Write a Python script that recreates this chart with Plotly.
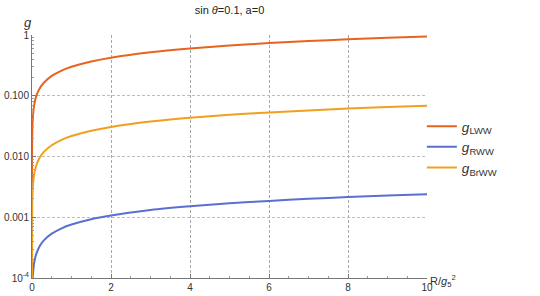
import plotly.graph_objects as go

x_vals = [0, 0.001, 0.005, 0.01, 0.02, 0.05, 0.1, 0.2, 0.3, 0.5, 0.75, 1, 1.5, 2, 3, 4, 5, 6, 7, 8, 9, 10]
g_lww = [1e-6, 0.0095, 0.021, 0.030, 0.042, 0.067, 0.095, 0.134, 0.164, 0.212, 0.26, 0.30, 0.367, 0.424, 0.52, 0.60, 0.67, 0.735, 0.794, 0.849, 0.90, 0.949]
g_rww = [1e-8, 0.000024, 0.0000537, 0.000076, 0.000107, 0.00017, 0.00024, 0.00034, 0.000416, 0.000537, 0.000658, 0.00076, 0.00093, 0.00107, 0.00132, 0.00152, 0.0017, 0.00186, 0.00201, 0.00215, 0.00228, 0.0024]
g_brww = [1e-7, 0.00069, 0.00153, 0.00217, 0.00307, 0.00485, 0.00686, 0.0097, 0.0119, 0.0153, 0.0188, 0.0217, 0.0266, 0.0307, 0.0376, 0.0434, 0.0485, 0.0532, 0.0574, 0.0614, 0.0651, 0.0686]

series_names = ["<i>g</i><sub>LWW</sub>", "<i>g</i><sub>RWW</sub>", "<i>g</i><sub>BrWW</sub>"]
colors = ["#E8641E", "#5B6FCF", "#F0A01E"]

y_ticks = [1e-4, 1e-3, 1e-2, 0.1, 1]
y_ticktext = ["10<sup>-4</sup>", "0.001", "0.010", "0.100", "1"]
x_ticks = [0, 2, 4, 6, 8, 10]
y_minor = [m * 10 ** e for e in range(-4, 0) for m in range(2, 10)]

fig = go.Figure()
for name, ys, c in zip(series_names, [g_lww, g_rww, g_brww], colors):
    fig.add_trace(go.Scatter(x=x_vals, y=ys, mode="lines", name=name,
                             line=dict(color=c, width=2, shape="spline", smoothing=0.6)))

fig.update_layout(
    width=540, height=296,
    margin=dict(l=32, r=113, t=35, b=18, pad=0, autoexpand=False),
    plot_bgcolor="white", paper_bgcolor="white",
    font=dict(family="Liberation Sans, Arial, sans-serif", size=10, color="#333"),
    title=dict(text="sin <i>θ</i>=0.1, a=0", x=0.5, xanchor="center", xref="paper", y=0.98, yanchor="top",
               font=dict(size=11, color="#222"), automargin=False),
    showlegend=True,
    legend=dict(x=0.987, y=0.539, xanchor="left", yanchor="middle", font=dict(size=13.5, color="#333"),
                bgcolor="rgba(0,0,0,0)"),
    xaxis=dict(range=[0, 10], tickvals=x_ticks, showline=True, linecolor="#777", linewidth=1,
               ticks="inside", ticklen=4, tickcolor="#777", showgrid=True, gridcolor="#a8a8a8",
               griddash="3px,2px", gridwidth=1, zeroline=False, automargin=False,
               minor=dict(ticks="inside", ticklen=2, tickcolor="#999", dtick=0.5, showgrid=False)),
    yaxis=dict(type="log", range=[-4, 0], tickvals=y_ticks, ticktext=y_ticktext, showline=True,
               linecolor="#777", linewidth=1, ticks="inside", ticklen=4, tickcolor="#777",
               showgrid=True, gridcolor="#bdbdbd", griddash="3px,2px", gridwidth=1, zeroline=False,
               automargin=False,
               minor=dict(ticks="inside", ticklen=2, tickcolor="#999", tickvals=y_minor, showgrid=False)),
)

fig.add_annotation(x=0, y=1, xref="paper", yref="paper", text="<i>g</i>", showarrow=False,
                   xanchor="center", yanchor="bottom", xshift=-4, yshift=3, font=dict(size=13, color="#333"))
fig.add_annotation(x=1, y=0, xref="paper", yref="paper", text="R/<i>g</i><sub>5</sub><sup>2</sup>",
                   showarrow=False, xanchor="left", yanchor="middle", xshift=1, yshift=-3,
                   font=dict(size=11, color="#333"))

fig.write_html("out.html", config={"displayModeBar": False},
               post_script="document.body.style.margin='0';")
